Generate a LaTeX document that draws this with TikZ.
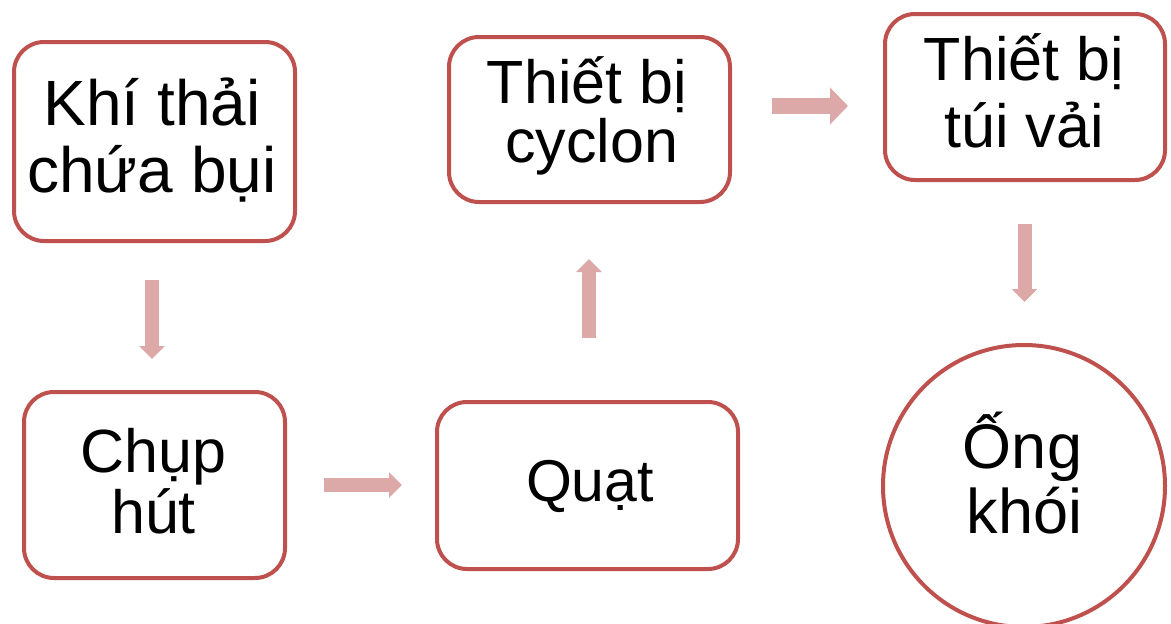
\documentclass[tikz,border=0pt]{standalone}
\usepackage{fontspec}
\setmainfont{Liberation Sans}
\usetikzlibrary{arrows.meta}
\definecolor{edgered}{RGB}{190,80,77}
\definecolor{flowpink}{RGB}{220,168,168}
\tikzset{
  stagebox/.style={draw=edgered, line width=4pt, rounded corners=30pt, fill=white,
    inner sep=0pt},
  stagecircle/.style={draw=edgered, line width=4pt, circle, fill=white, inner sep=0pt},
  stageline/.style={anchor=base, inner sep=0pt, font=\fontsize{61}{61}\selectfont},
  flowsmall/.style={draw=flowpink, line width=14pt,
    -{Triangle[length=13pt,width=25pt]}, color=flowpink},
  flowbig/.style={draw=flowpink, line width=16.5pt,
    -{Triangle[length=18pt,width=36pt]}, color=flowpink}
}
\begin{document}
\begin{tikzpicture}[x=1pt,y=-1pt]
  \useasboundingbox (0,0) rectangle (1171,624);

  % process stages (frames)
  \node[stagebox, minimum width=281pt, minimum height=199pt] (khi) at (154.5,141.5) {};
  \node[stagebox, minimum width=261pt, minimum height=186pt] (chup) at (154.5,485) {};
  \node[stagebox, minimum width=301pt, minimum height=167pt] (quat) at (587.5,485.5) {};
  \node[stagebox, minimum width=281pt, minimum height=165pt] (cyc) at (589.5,119.5) {};
  \node[stagebox, minimum width=280pt, minimum height=166pt] (tui) at (1025,97) {};
  \node[stagecircle, minimum size=282pt] (ong) at (1024,486) {};

  % stage labels, one node per line, placed on their baselines
  \node[stageline, font=\fontsize{64}{64}\selectfont] (khi-1) at (152,125) {Khí thải};
  \node[stageline, font=\fontsize{64}{64}\selectfont] (khi-2) at (152,192) {chứa bụi};
  \node[stageline] (chup-1) at (153.5,472) {Chụp};
  \node[stageline] (chup-2) at (153.5,533) {hút};
  \node[stageline, font=\fontsize{59}{59}\selectfont] (quat-1) at (590,501) {Quạt};
  \node[stageline] (cyc-1) at (587,103) {Thiết bị};
  \node[stageline] (cyc-2) at (591.5,162) {cyclon};
  \node[stageline] (tui-1) at (1024,80) {Thiết bị};
  \node[stageline] (tui-2) at (1024,147) {túi vải};
  \node[stageline, font=\fontsize{63}{63}\selectfont] (ong-1) at (1022.5,468) {Ống};
  \node[stageline, font=\fontsize{63}{63}\selectfont] (ong-2) at (1024.5,533) {khói};

  % flow arrows between the stages
  \coordinate (a1s) at (152,280);  \coordinate (a1e) at (152,359);
  \coordinate (a2s) at (324,485);  \coordinate (a2e) at (402,485);
  \coordinate (a3s) at (589,338);  \coordinate (a3e) at (589,259);
  \coordinate (a4s) at (772,106);  \coordinate (a4e) at (848,106);
  \coordinate (a5s) at (1024.5,224); \coordinate (a5e) at (1024.5,302);

  \draw[flowsmall] (a1s) -- (a1e);
  \draw[flowsmall] (a2s) -- (a2e);
  \draw[flowsmall] (a3s) -- (a3e);
  \draw[flowbig]   (a4s) -- (a4e);
  \draw[flowsmall] (a5s) -- (a5e);
\end{tikzpicture}
\end{document}
